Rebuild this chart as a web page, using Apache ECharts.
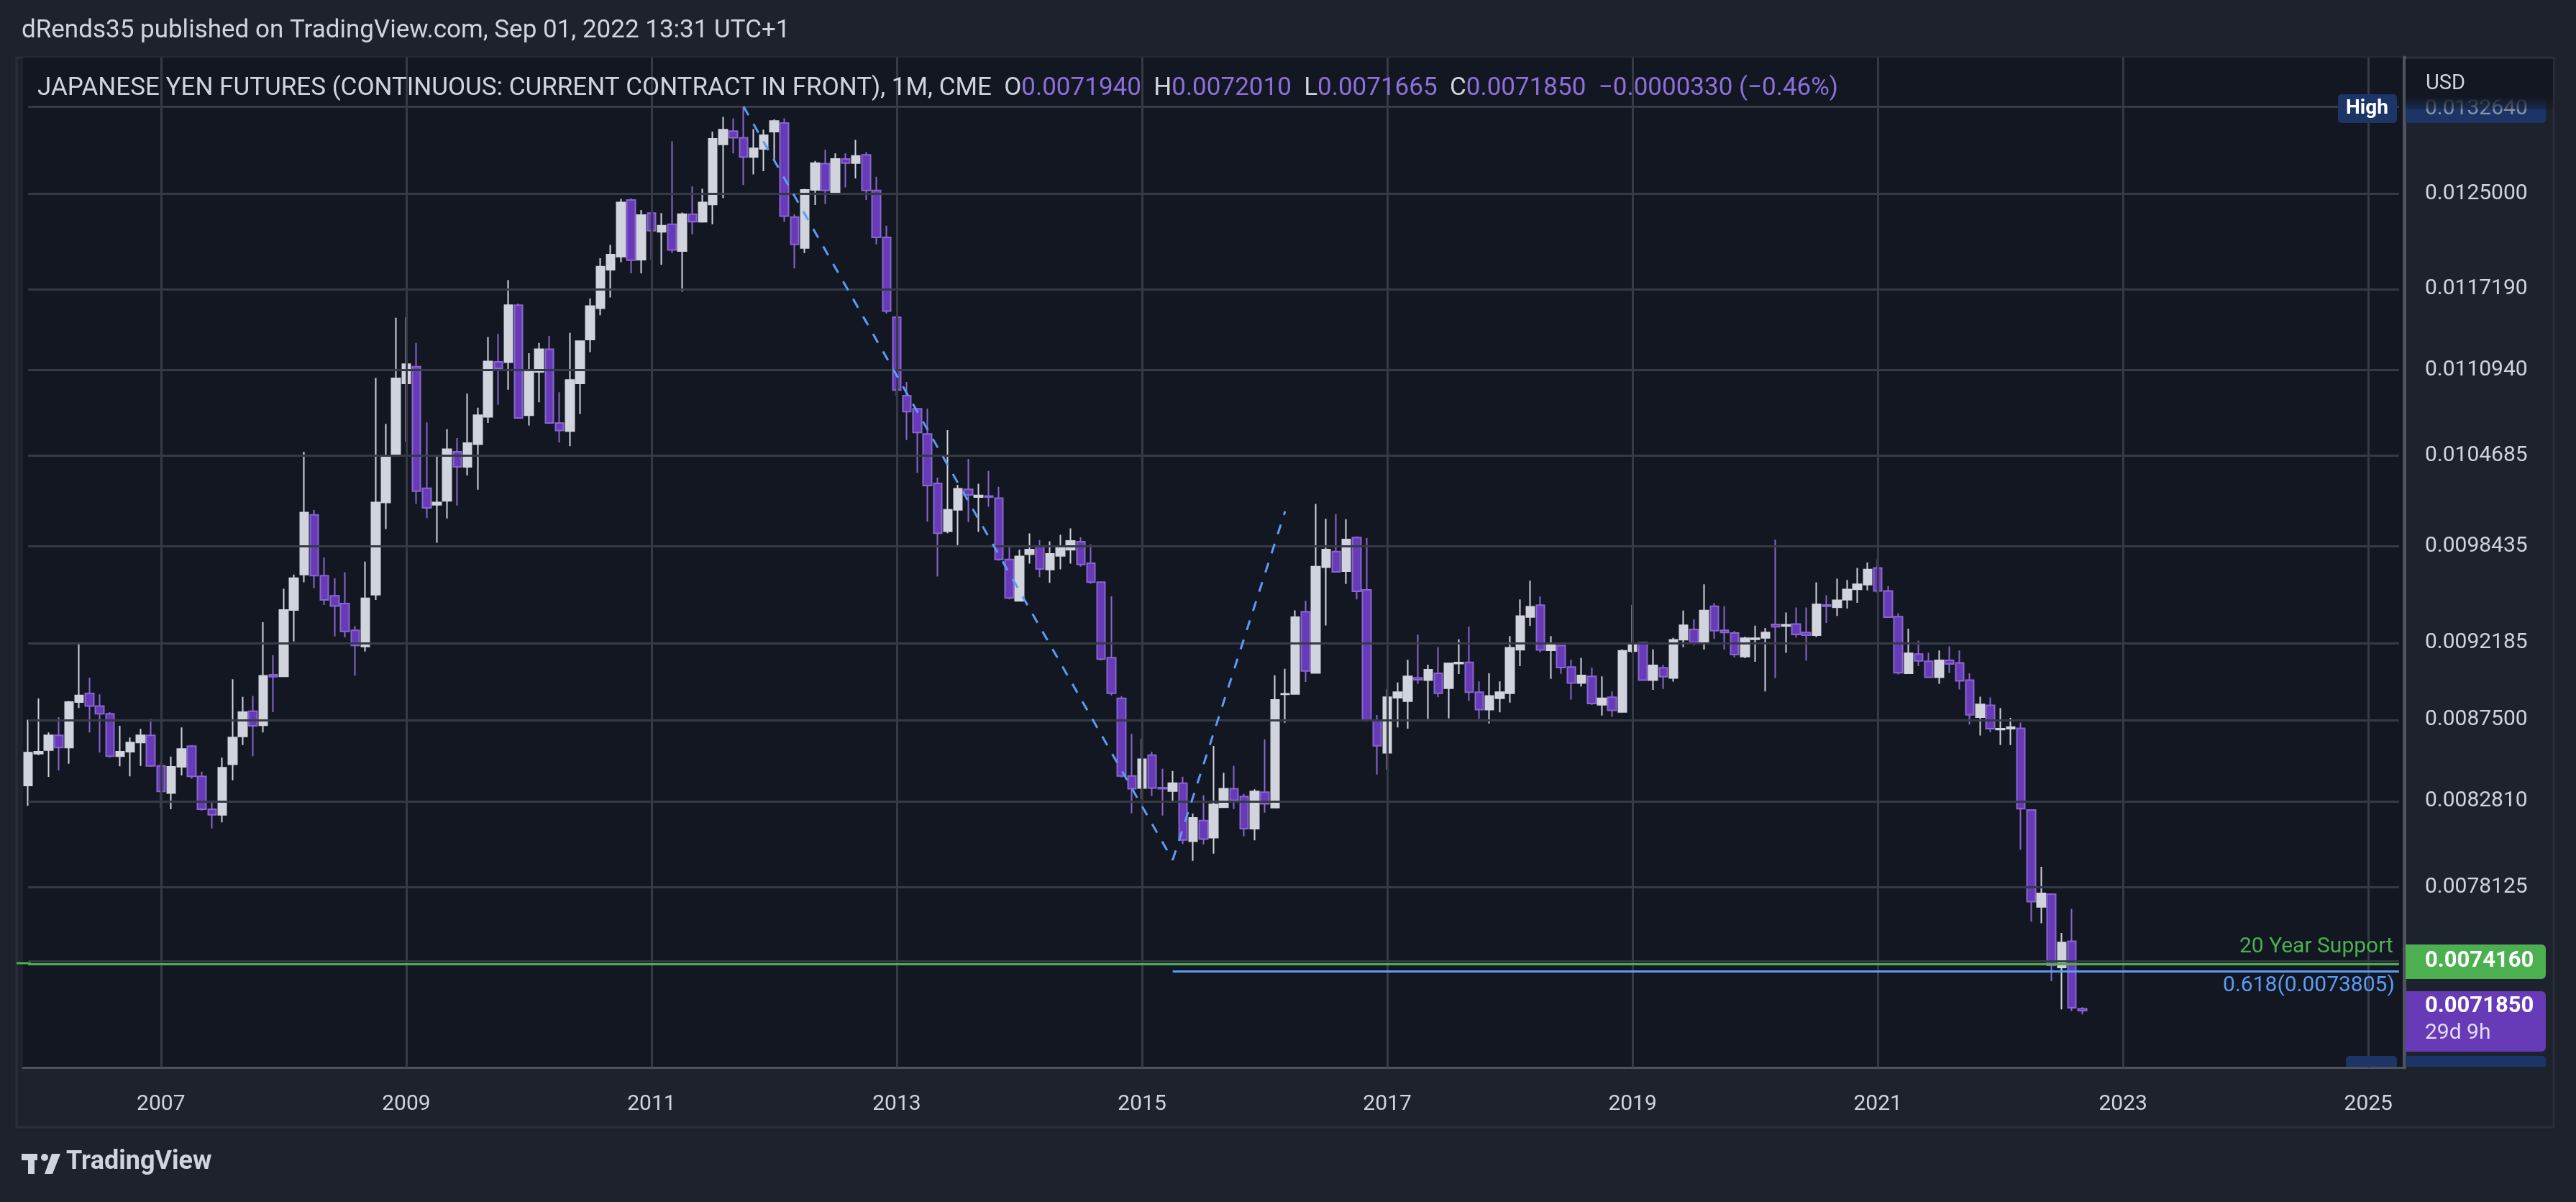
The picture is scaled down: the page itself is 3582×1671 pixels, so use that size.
<!DOCTYPE html>
<html><head><meta charset="utf-8">
<script src="https://cdn.jsdelivr.net/npm/echarts@6/dist/echarts.min.js"></script>
<style>html,body{margin:0;padding:0;background:#1e222d;}#c{width:3582px;height:1671px;}</style>
</head><body><div id="c"></div>
<script>
// ---- DATA: monthly candles [open, close, low, high] ----
const startMonth = [2005, 12];
const monthsOnAxis = 233;
const c2005_2007 = [
[.008370,.008558,.008256,.008751],[.008552,.008564,.008544,.008878],[.008573,.008659,.008419,.008676],[.008659,.008588,.008456,.008766],
[.008588,.008857,.008494,.008863],[.008857,.008897,.008821,.009219],[.008909,.008833,.008676,.009004],[.008833,.008787,.008558,.008903],
[.008787,.008538,.008529,.008796],[.008538,.008564,.008479,.008715],[.008564,.008617,.008422,.008647],[.008617,.008659,.008482,.008697],
[.008659,.008482,.008476,.008757],[.008482,.008336,.008242,.008500],[.008327,.008476,.008236,.008535],[.008476,.008579,.008427,.008706],
[.008596,.008422,.008407,.008602],[.008422,.008236,.008228,.008448],[.008236,.008205,.008129,.008284],[.008205,.008471,.008163,.008529],
[.008491,.008647,.008399,.008995],[.008653,.008796,.008602,.008888],[.008802,.008715,.008538,.008894],[.008718,.009016,.008676,.009350],
[.009022,.009010,.008796,.009143]];
const c2008_2010 = [
[.009013,.009427,.009013,.009564],[.009427,.009633,.009228,.009656],[.009656,.010072,.009606,.010495],[.010055,.009649,.009567,.010089],
[.009649,.009492,.009459,.009769],[.009518,.009453,.009260,.009633],[.009469,.009292,.009254,.009672],[.009298,.009203,.009016,.009324],
[.009197,.009502,.009165,.009742],[.009525,.010141,.009492,.011034],[.010141,.010466,.009959,.010695],[.010466,.011030,.010459,.011493],
[.010993,.011137,.010567,.011497],[.011118,.010218,.010130,.011298],[.010239,.010103,.010034,.010706],[.010124,.010141,.009867,.010459],
[.010151,.010513,.010031,.010658],[.010495,.010388,.010120,.010593],[.010388,.010557,.010327,.010917],[.010549,.010758,.010229,.010813],
[.010747,.011158,.010702,.011344],[.011155,.011106,.010835,.011368],[.011152,.011592,.010946,.011792],[.011592,.010739,.010732,.011604],
[.010758,.011079,.010684,.011221],[.011079,.011251,.010853,.011298],[.011251,.010702,.010695,.011352],[.010702,.010647,.010560,.010928],
[.010643,.011019,.010535,.011376],[.010993,.011313,.010768,.011317],[.011325,.011584,.011228,.011644],[.011568,.011898,.011513,.011967],
[.011874,.011996,.011652,.012075],[.011979,.012428,.011934,.012458],[.012449,.011951,.011845,.012462],[.011955,.012322,.011845,.012364]];
const c2011_2013 = [
[.012339,.012192,.011955,.012343],[.012183,.012234,.011914,.012339],[.012246,.012034,.012009,.012954],[.012025,.012330,.011700,.012343],
[.012330,.012267,.012162,.012565],[.012267,.012428,.012259,.012543],[.012411,.012976,.012246,.013039],[.012927,.013057,.012466,.013170],
[.013044,.012985,.012848,.013157],[.012985,.012817,.012577,.013264],[.012817,.012892,.012667,.013061],[.012888,.013007,.012694,.013057],
[.013039,.013134,.012782,.013148],[.013116,.012313,.012267,.013157],[.012305,.012079,.011885,.012330],[.012050,.012534,.012009,.012543],
[.012534,.012764,.012407,.012782],[.012759,.012530,.012415,.012879],[.012513,.012799,.012492,.012848],[.012799,.012764,.012556,.012848],
[.012764,.012826,.012633,.012967],[.012835,.012530,.012449,.012861],[.012530,.012137,.012079,.012646],[.012137,.011545,.011525,.012234],
[.011497,.010943,.010898,.011505],[.010902,.010784,.010579,.011003],[.010806,.010633,.010345,.010806],[.010622,.010257,.010010,.010806],
[.010272,.009931,.009644,.010313],[.009945,.010090,.009931,.010650],[.010090,.010235,.009852,.010262],[.010231,.010193,.010007,.010444],
[.010177,.010189,.009941,.010270],[.010185,.010177,.010111,.010359],[.010170,.009756,.009747,.010249],[.009756,.009505,.009495,.009842]];
const c2014_2016 = [
[.009486,.009776,.009486,.009822],[.009791,.009822,.009729,.009930],[.009842,.009693,.009640,.009885],[.009689,.009793,.009603,.009877],
[.009780,.009836,.009691,.009920],[.009820,.009879,.009729,.009964],[.009875,.009723,.009708,.009903],[.009731,.009607,.009597,.009856],
[.009607,.009119,.009110,.009611],[.009128,.008910,.008897,.009515],[.008879,.008424,.008416,.008892],[.008424,.008351,.008214,.008668],
[.008355,.008520,.008291,.008640],[.008544,.008355,.008310,.008564],[.008357,.008351,.008201,.008465],[.008338,.008383,.008283,.008453],
[.008383,.008066,.008044,.008420],[.008059,.008188,.007953,.008212],[.008173,.008071,.008041,.008315],[.008079,.008263,.007992,.008597],
[.008247,.008351,.008247,.008441],[.008351,.008286,.008237,.008482],[.008308,.008128,.008087,.008322],[.008128,.008336,.008064,.008348],
[.008332,.008266,.008217,.008635],[.008245,.008870,.008242,.009019],[.008903,.008907,.008733,.009059],[.008905,.009382,.008901,.009425],
[.009416,.009046,.008979,.009486],[.009033,.009708,.009029,.010130],[.009705,.009822,.009329,.010028],[.009808,.009674,.009670,.010060],
[.009679,.009889,.009595,.010026],[.009902,.009548,.009495,.009909],[.009557,.008750,.008740,.009899],[.008747,.008598,.008432,.008779]];
const c2017_2019 = [
[.008557,.008886,.008461,.008934],[.008883,.008916,.008706,.008975],[.008862,.009013,.008698,.009114],[.009004,.008992,.008967,.009271],
[.008989,.009053,.008756,.009084],[.009031,.008910,.008886,.009194],[.008940,.009092,.008759,.009092],[.009091,.009098,.009027,.009242],
[.009099,.008916,.008863,.009322],[.008916,.008812,.008756,.008982],[.008812,.008893,.008729,.009031],[.008879,.008916,.008795,.008982],
[.008910,.009189,.008853,.009262],[.009177,.009388,.009075,.009495],[.009383,.009448,.009325,.009617],[.009458,.009176,.009160,.009514],
[.009173,.009216,.008997,.009262],[.009202,.009067,.009028,.009207],[.009070,.008972,.008871,.009114],[.008972,.009018,.008950,.009126],
[.009013,.008848,.008839,.009065],[.008841,.008879,.008776,.009012],[.008886,.008807,.008769,.008921],[.008798,.009170,.008795,.009179],
[.009168,.009214,.009155,.009460],[.009222,.008990,.008985,.009226],[.008990,.009080,.008931,.009179],[.009065,.009010,.008936,.009083],
[.009003,.009238,.008981,.009251],[.009240,.009330,.009193,.009424],[.009304,.009223,.009205,.009368],[.009223,.009424,.009178,.009593],
[.009452,.009296,.009244,.009471],[.009298,.009285,.009178,.009452],[.009281,.009146,.009130,.009294],[.009134,.009249,.009124,.009258]];
const c2020_2022 = [
[.009242,.009249,.009102,.009328],[.009251,.009285,.008921,.009313],[.009336,.009321,.009001,.009888],[.009325,.009334,.009158,.009411],
[.009338,.009272,.009253,.009443],[.009285,.009268,.009110,.009443],[.009268,.009463,.009255,.009606],[.009460,.009452,.009345,.009522],
[.009445,.009490,.009390,.009630],[.009493,.009559,.009437,.009621],[.009561,.009593,.009473,.009700],[.009591,.009689,.009553,.009736],
[.009700,.009550,.009537,.009756],[.009550,.009381,.009381,.009582],[.009385,.009035,.009023,.009407],[.009031,.009154,.009031,.009308],
[.009150,.009107,.009075,.009233],[.009105,.009007,.009007,.009158],[.009007,.009111,.008967,.009172],[.009111,.009089,.009033,.009198],
[.009095,.008985,.008933,.009172],[.008989,.008780,.008723,.009031],[.008766,.008843,.008658,.008889],[.008837,.008698,.008677,.008885],
[.008693,.008698,.008602,.008821],[.008698,.008708,.008602,.008762],[.008700,.008239,.008013,.008735],[.008232,.007736,.007632,.008236],
[.007708,.007779,.007623,.007921],[.007775,.007409,.007330,.007778],[.007398,.007524,.007191,.007573],[.007531,.007199,.007183,.007698],
[.007194,.007185,.0071665,.007201]];

const priceTicks = [0.0125, 0.011719, 0.011094, 0.0104685, 0.0098435, 0.0092185, 0.00875, 0.008281, 0.0078125];
const priceTickLabels = ['0.0125000','0.0117190','0.0110940','0.0104685','0.0098435','0.0092185','0.0087500','0.0082810','0.0078125'];
const extraGrid = [0.013264, 0.00743];
const yearLines = ['2007-01','2009-01','2011-01','2013-01','2015-01','2017-01','2019-01','2021-01','2023-01','2025-01'];
const trendPoints = [['2011-10', 0.013264], ['2015-04', 0.007957], ['2016-03', 0.01008]];
const supportLevel = 0.007416;
const fibLevel = 0.0073805;
const fibStart = '2015-04';
const yMin = 0.006913, yMax = 0.013711;

// ---- build ----
const candles = [].concat(c2005_2007, c2008_2010, c2011_2013, c2014_2016, c2017_2019, c2020_2022);
const cats = [];
for (let i = 0; i < monthsOnAxis; i++) {
  const m0 = startMonth[1] - 1 + i;
  const y = startMonth[0] + Math.floor(m0 / 12), m = (m0 % 12) + 1;
  cats.push(y + '-' + (m < 10 ? '0' : '') + m);
}
const first = cats[0], last = cats[cats.length - 1];
const GRID = '#363a45', TXT = '#d1d4dc', PUR = '#673ab7', BLUE = '#5b9cf6', GREEN = '#4caf50';
const F = 'Roboto, "Liberation Sans", sans-serif';

const gridLines = [];
priceTicks.forEach((v, i) => gridLines.push([
  {coord: [first, v], lineStyle: {color: GRID, width: 3, type: 'solid'},
   label: {show: true, position: 'end', distance: 36, formatter: priceTickLabels[i], color: TXT, fontSize: 30, fontFamily: F}},
  {coord: [last, v]}]));
extraGrid.forEach(v => gridLines.push([{coord: [first, v], lineStyle: {color: GRID, width: 3, type: 'solid'}, label: {show: false}}, {coord: [last, v]}]));
yearLines.forEach(v => gridLines.push({xAxis: v, lineStyle: {color: GRID, width: 3, type: 'solid'}, label: {show: false}}));

const drawLines = [];
for (let i = 0; i < trendPoints.length - 1; i++) {
  drawLines.push([{coord: trendPoints[i]}, {coord: trendPoints[i + 1]}]);
}

const chart = echarts.init(document.getElementById('c'), null, {renderer: 'canvas'});
chart.setOption({
  animation: false,
  backgroundColor: '#1e222d',
  grid: {left: 32, right: 239, top: 80, bottom: 187, show: true, backgroundColor: '#131722', borderWidth: 0},
  xAxis: {type: 'category', data: cats, boundaryGap: true,
    axisLine: {show: true, lineStyle: {color: '#50535e', width: 3}}, axisTick: {show: false}, splitLine: {show: false},
    axisLabel: {color: TXT, fontSize: 30, fontFamily: F, margin: 36,
      interval: (i, v) => v.endsWith('-01') && (parseInt(v) % 2 === 1),
      formatter: v => v.slice(0, 4)}},
  yAxis: {type: 'log', position: 'right', min: yMin, max: yMax, logBase: 10,
    axisLine: {show: true, lineStyle: {color: '#50535e', width: 5}}, axisTick: {show: false},
    axisLabel: {show: false}, splitLine: {show: false}},
  series: [
    {type: 'candlestick', data: candles, barWidth: 12,
      itemStyle: {color: '#d1d4dc', color0: PUR, borderColor: '#d1d4dc', borderColor0: '#8a66d0', borderWidth: 2},
      markLine: {silent: true, symbol: 'none', animation: false, data: gridLines}, z: 3},
    {type: 'line', data: [], markLine: {silent: true, symbol: 'none', animation: false,
      lineStyle: {color: BLUE, width: 3, type: [14, 14]}, label: {show: false}, data: drawLines.concat([
        [{coord: [fibStart, fibLevel], lineStyle: {type: 'solid', color: BLUE, width: 3},
          label: {show: true, position: 'insideEndBottom', formatter: '0.618(0.0073805)', color: BLUE, fontSize: 30, fontFamily: F, distance: 6}},
         {coord: [last, fibLevel]}],
        [{coord: [first, supportLevel], lineStyle: {type: 'solid', color: GREEN, width: 3},
          label: {show: true, position: 'insideEndTop', formatter: '20 Year Support', color: GREEN, fontSize: 30, fontFamily: F, distance: 8}},
         {coord: [last, supportLevel]}]
      ])}, z: 4}
  ],
  graphic: [
    {type: 'rect', shape: {x: 23, y: 80, width: 3528, height: 1487}, style: {fill: 'none', stroke: '#2a2e39', lineWidth: 3}, z: -1, silent: true},
    {type: 'rect', z: 5, shape: {x: 23, y: 1337.5, width: 20, height: 3}, style: {fill: GREEN}},
    {type: 'text', left: 30, top: 26, style: {text: 'dRends35 published on TradingView.com, Sep 01, 2022 13:31 UTC+1', fill: TXT, fontSize: 35, fontFamily: F}},
    {type: 'text', left: 52, top: 106, z: 10, style: {
      text: '{w|JAPANESE YEN FUTURES (CONTINUOUS: CURRENT CONTRACT IN FRONT), 1M, CME  O}{p|0.0071940}{w|  H}{p|0.0072010}{w|  L}{p|0.0071665}{w|  C}{p|0.0071850  −0.0000330 (−0.46%)}',
      rich: {w: {fill: TXT, fontSize: 35, fontFamily: F}, p: {fill: '#8e6fdb', fontSize: 35, fontFamily: F}}}},
    // High tag
    {type: 'rect', z: 10, shape: {x: 3251, y: 131, width: 82, height: 40, r: 5}, style: {fill: '#1c3566'}},
    {type: 'text', z: 11, left: 3262, top: 137, style: {text: 'High', fill: '#ffffff', fontSize: 28, fontWeight: 'bold', fontFamily: F}},
    {type: 'rect', z: 10, shape: {x: 3345, y: 131, width: 195, height: 40, r: [0, 5, 5, 0]}, style: {fill: '#1c3566'}},
    {type: 'text', z: 11, left: 3372, top: 136, style: {text: '0.0132640', fill: '#8a93a8', fontSize: 30, fontFamily: F}},
    {type: 'rect', z: 12, shape: {x: 3345, y: 82, width: 205, height: 70},
      style: {fill: new echarts.graphic.LinearGradient(0, 0, 0, 1, [{offset: 0, color: '#131722'}, {offset: 0.75, color: '#131722'}, {offset: 1, color: 'rgba(19,23,34,0.3)'}])}},
    {type: 'text', z: 13, left: 3373, top: 102, style: {text: 'USD', fill: TXT, fontSize: 29, fontFamily: F}},
    // Support tag
    {type: 'rect', z: 10, shape: {x: 3345, y: 1313, width: 195, height: 48, r: [0, 6, 6, 0]}, style: {fill: GREEN}},
    {type: 'text', z: 11, left: 3372, top: 1321, style: {text: '0.0074160', fill: '#ffffff', fontSize: 31, fontWeight: 'bold', fontFamily: F}},
    // Last price tag
    {type: 'rect', z: 10, shape: {x: 3345, y: 1378, width: 195, height: 84, r: [0, 6, 6, 0]}, style: {fill: PUR}},
    {type: 'text', z: 11, left: 3372, top: 1384, style: {text: '0.0071850', fill: '#ffffff', fontSize: 31, fontWeight: 'bold', fontFamily: F}},
    {type: 'text', z: 11, left: 3372, top: 1421, style: {text: '29d 9h', fill: '#e3dcf5', fontSize: 30, fontFamily: F}},
    // Low tag (cut)
    {type: 'rect', z: 10, shape: {x: 3262, y: 1468, width: 71, height: 15, r: [5, 5, 0, 0]}, style: {fill: '#1c3566'}},
    {type: 'rect', z: 10, shape: {x: 3345, y: 1468, width: 195, height: 15, r: [0, 5, 0, 0]}, style: {fill: '#1c3566'}},
    // TradingView logo
    {type: 'rect', z: 10, shape: {x: 30, y: 1604, width: 22, height: 9}, style: {fill: TXT}},
    {type: 'rect', z: 10, shape: {x: 39, y: 1604, width: 9, height: 28}, style: {fill: TXT}},
    {type: 'circle', z: 10, shape: {cx: 62, cy: 1609, r: 5}, style: {fill: TXT}},
    {type: 'polygon', z: 10, shape: {points: [[72, 1604], [84, 1604], [73, 1632], [62, 1632]]}, style: {fill: TXT}},
    {type: 'text', z: 10, left: 92, top: 1598, style: {text: 'TradingView', fill: TXT, fontSize: 36, fontWeight: 'bold', fontFamily: F}}
  ]
});
</script></body></html>
